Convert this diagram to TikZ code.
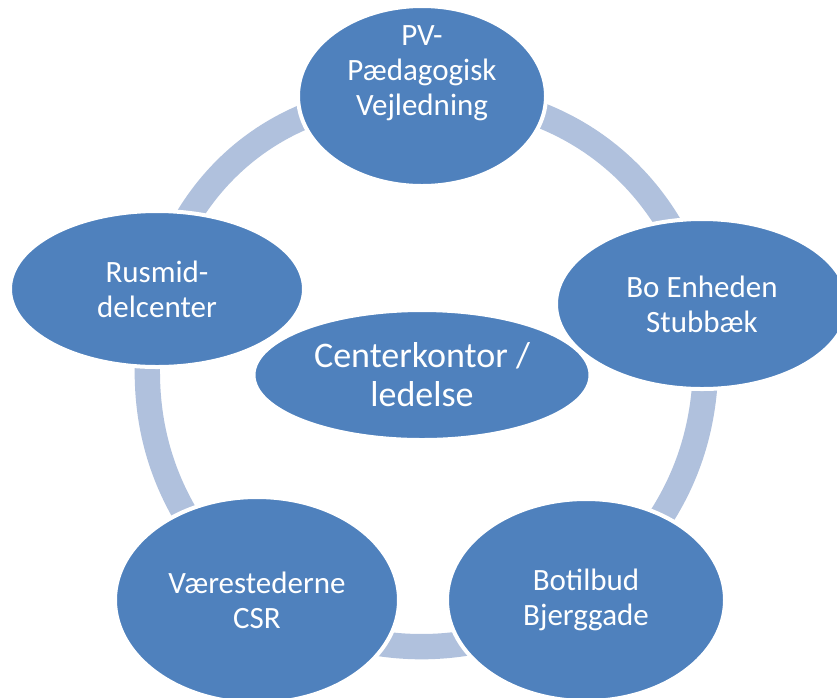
\documentclass[tikz,border=0pt]{standalone}
\usepackage{fontspec}
\setmainfont{Carlito}
\usetikzlibrary{shapes.geometric,backgrounds}
\definecolor{unitblue}{HTML}{4F81BD}
\definecolor{ringblue}{HTML}{B0C1DD}
\tikzset{
  txt/.style={text=white, align=center, font=\fontsize{23.25}{26.25}\selectfont},
  unit/.style={ellipse, fill=unitblue, draw=white, line width=3pt, inner sep=0pt, txt},
  ring/.style={draw=ringblue, line width=19pt},
}
\begin{document}
\begin{tikzpicture}[x=0.75pt,y=0.75pt,yscale=-1,xscale=1]
        \useasboundingbox (0,0) rectangle (837,697);
        % units round the ring
        \node[unit, minimum width=186pt, minimum height=135pt] (pv) at (422,96) {};
        \node[txt] (pvtext) at (422,73) {PV-\\Pædagogisk\\Vejledning};
        \node[unit, minimum width=219pt, minimum height=127.5pt] (bo) at (702,304) {Bo Enheden\\Stubbæk};
        \node[unit, minimum width=208.5pt, minimum height=151.5pt] (botilbud) at (586,600) {Botilbud\\Bjerggade};
        \node[unit, minimum width=213pt, minimum height=154.5pt] (vaer) at (257,600) {Værestederne\\CSR};
        \node[unit, minimum width=220.5pt, minimum height=117pt] (rus) at (157,289) {Rusmid-\\delcenter};
        % middle
        \node[unit, minimum width=252.75pt, minimum height=97.5pt, font=\fontsize{27}{29.25}\selectfont] (ledelse) at (422,375) {Centerkontor /\\ledelse};
        % ring pieces
        \begin{scope}[on background layer]
            \draw[ring] (pv.center) to[bend right=39] (bo.center);
            \draw[ring] (bo.center) to[bend right=29] (botilbud.center);
            \draw[ring] (botilbud.center) to[bend right=29] (vaer.center);
            \draw[ring] (vaer.center) to[bend right=30.5] (rus.center);
            \draw[ring] (rus.center) to[bend right=38] (pv.center);
        \end{scope}
\end{tikzpicture}
\end{document}
